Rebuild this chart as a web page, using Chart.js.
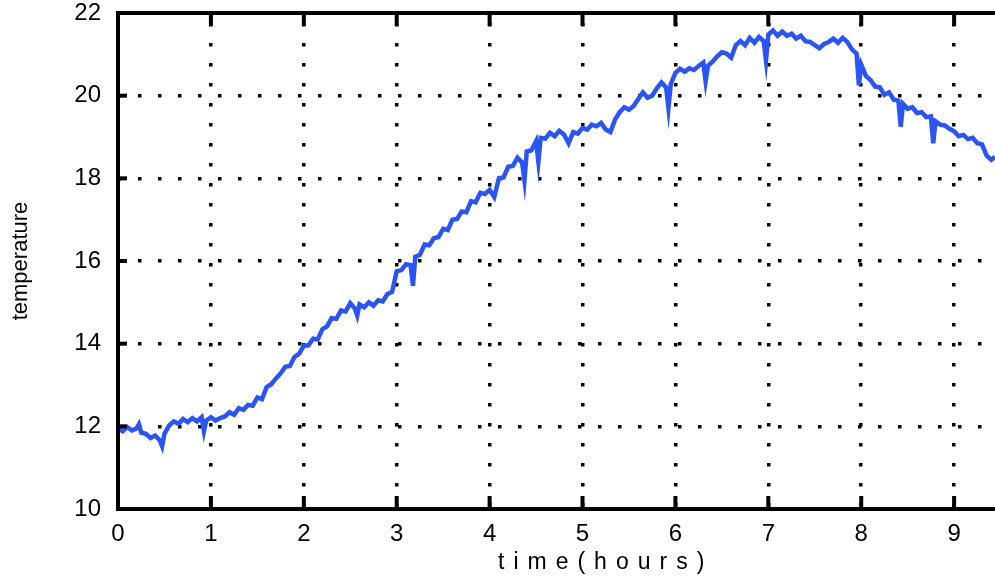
<!DOCTYPE html>
<html>
<head>
<meta charset="utf-8">
<title>temperature vs time</title>
<script src="https://cdn.jsdelivr.net/npm/chart.js@4.4.0/dist/chart.umd.min.js"></script>
<style>
  html, body { margin: 0; padding: 0; background: #fff; }
  canvas { display: block; }
</style>
</head>
<body>
<canvas id="myChart" width="995" height="577"></canvas>
<script>
// time in hours (extra points where the trace spikes)
const hours = [
  0.00, 0.05, 0.10, 0.15, 0.20, 0.225, 0.25, 0.30, 0.35, 0.40, 0.45, 0.475, 0.50,
  0.55, 0.60, 0.65, 0.70, 0.75, 0.80, 0.85, 0.90, 0.925, 0.95, 1.00,
  1.05, 1.10, 1.15, 1.20, 1.25, 1.30, 1.35, 1.40, 1.45, 1.50,
  1.55, 1.60, 1.65, 1.70, 1.75, 1.80, 1.85, 1.90, 1.95, 2.00,
  2.05, 2.10, 2.15, 2.20, 2.25, 2.30, 2.35, 2.40, 2.45, 2.50,
  2.55, 2.575, 2.60, 2.65, 2.70, 2.75, 2.80, 2.85, 2.90, 2.95, 3.00,
  3.05, 3.10, 3.15, 3.175, 3.20, 3.25, 3.30, 3.35, 3.40, 3.45, 3.50,
  3.55, 3.60, 3.65, 3.70, 3.75, 3.80, 3.85, 3.90, 3.95, 4.00,
  4.05, 4.10, 4.15, 4.20, 4.25, 4.30, 4.35, 4.375, 4.40, 4.45, 4.50,
  4.525, 4.55, 4.60, 4.65, 4.70, 4.75, 4.80, 4.85, 4.90, 4.95, 5.00,
  5.05, 5.10, 5.15, 5.20, 5.25, 5.30, 5.35, 5.40, 5.45, 5.50,
  5.55, 5.60, 5.65, 5.70, 5.75, 5.80, 5.85, 5.90, 5.925, 5.95, 6.00,
  6.05, 6.10, 6.15, 6.20, 6.25, 6.30, 6.325, 6.35, 6.40, 6.45, 6.50,
  6.55, 6.60, 6.65, 6.70, 6.75, 6.80, 6.85, 6.90, 6.95, 6.975, 7.00,
  7.05, 7.10, 7.15, 7.20, 7.25, 7.30, 7.35, 7.40, 7.45, 7.50,
  7.55, 7.60, 7.65, 7.70, 7.75, 7.80, 7.85, 7.90, 7.95, 7.975, 8.00,
  8.05, 8.10, 8.15, 8.20, 8.25, 8.30, 8.35, 8.40, 8.425, 8.45, 8.50,
  8.55, 8.60, 8.65, 8.70, 8.75, 8.775, 8.80, 8.85, 8.90, 8.95, 9.00,
  9.05, 9.10, 9.15, 9.20, 9.25, 9.30, 9.35, 9.40, 9.44
];

// temperature readings, same order as hours
const temperature = [
  11.95, 11.88, 11.98, 11.90, 11.95, 12.05, 11.85, 11.82, 11.72, 11.78, 11.66, 11.52, 11.82,
  12.02, 12.12, 12.06, 12.18, 12.10, 12.20, 12.12, 12.22, 11.88, 12.14, 12.22,
  12.14, 12.20, 12.24, 12.34, 12.28, 12.44, 12.40, 12.52, 12.50, 12.70,
  12.66, 12.95, 13.02, 13.16, 13.28, 13.44, 13.46, 13.68, 13.76, 13.95,
  13.96, 14.12, 14.10, 14.35, 14.42, 14.62, 14.60, 14.80, 14.78, 14.98,
  14.85, 14.68, 14.95, 14.88, 15.00, 14.92, 15.05, 15.02, 15.20, 15.25, 15.75,
  15.78, 15.92, 15.90, 15.40, 16.10, 16.15, 16.40, 16.38, 16.55, 16.58, 16.78,
  16.75, 17.00, 17.02, 17.20, 17.18, 17.45, 17.42, 17.65, 17.62, 17.72,
  17.55, 18.00, 18.02, 18.28, 18.30, 18.50, 18.38, 17.95, 18.65, 18.68, 18.90,
  18.40, 18.98, 18.96, 19.10, 19.02, 19.15, 19.06, 18.85, 19.12, 19.08, 19.22,
  19.18, 19.30, 19.26, 19.34, 19.18, 19.12, 19.42, 19.60, 19.72, 19.66,
  19.75, 19.92, 20.08, 19.95, 20.00, 20.18, 20.32, 20.20, 19.70, 20.28, 20.55,
  20.65, 20.58, 20.66, 20.62, 20.72, 20.80, 20.35, 20.72, 20.82, 20.95, 21.05,
  21.02, 20.92, 21.22, 21.32, 21.22, 21.40, 21.28, 21.42, 21.32, 20.85, 21.48,
  21.58, 21.45, 21.55, 21.45, 21.50, 21.38, 21.45, 21.32, 21.30, 21.22,
  21.15, 21.25, 21.30, 21.38, 21.28, 21.40, 21.30, 21.12, 21.02, 20.25, 20.75,
  20.48, 20.38, 20.22, 20.20, 20.02, 20.08, 19.90, 19.88, 19.25, 19.80, 19.68,
  19.72, 19.58, 19.60, 19.48, 19.50, 18.85, 19.38, 19.30, 19.28, 19.20, 19.14,
  19.02, 19.05, 18.95, 18.98, 18.85, 18.82, 18.55, 18.45, 18.52
];

const xTicks = [0, 1, 2, 3, 4, 5, 6, 7, 8, 9];
const yTicks = [10, 12, 14, 16, 18, 20, 22];

const FONT = "'Liberation Sans', Arial, Helvetica, sans-serif";

// frame, inward tick marks and the spaced-out x title
const framePlugin = {
    id: 'frame',
    afterDraw(chart) {
        const { ctx, chartArea: a, scales: { x, y } } = chart;
        ctx.save();
        ctx.strokeStyle = '#000';
        ctx.lineCap = 'butt';

        ctx.lineWidth = 4;
        xTicks.forEach(v => {
            const px = x.getPixelForValue(v);
            ctx.beginPath();
            ctx.moveTo(px, a.bottom); ctx.lineTo(px, a.bottom - 13);
            ctx.moveTo(px, a.top); ctx.lineTo(px, a.top + 13);
            ctx.stroke();
        });
        yTicks.forEach(v => {
            const py = y.getPixelForValue(v);
            ctx.beginPath();
            ctx.moveTo(a.left, py); ctx.lineTo(a.left + 9, py);
            ctx.stroke();
        });

        ctx.beginPath();
        ctx.moveTo(a.right, a.top);
        ctx.lineTo(a.left, a.top);
        ctx.lineTo(a.left, a.bottom);
        ctx.lineTo(a.right, a.bottom);
        ctx.stroke();

        ctx.fillStyle = '#000';
        ctx.font = '23px ' + FONT;
        ctx.letterSpacing = '9px';
        ctx.textAlign = 'left';
        ctx.textBaseline = 'alphabetic';
        ctx.fillText('time(hours)', 498, 569);
        ctx.restore();
    }
};

const ctx = document.getElementById('myChart').getContext('2d');

const myChart = new Chart(ctx, {
    type: 'line',
    data: {
        datasets: [{
            data: hours.map((h, i) => ({ x: h, y: temperature[i] })),
            borderColor: '#2a55f4',
            borderWidth: 4.5,
            pointRadius: 0,
            tension: 0,
            fill: false
        }]
    },
    options: {
        responsive: false,
        animation: false,
        devicePixelRatio: 1,
        layout: { padding: { top: 13, right: 0, left: 0, bottom: 0 } },
        plugins: {
            legend: { display: false },
            tooltip: { enabled: false }
        },
        scales: {
            x: {
                type: 'linear',
                min: 0,
                max: 9.44,
                afterBuildTicks: scale => { scale.ticks = xTicks.map(v => ({ value: v })); },
                afterFit: scale => {
                    scale.height = 68;
                    scale.paddingLeft = 0;
                    scale.paddingRight = 0;
                },
                ticks: {
                    color: '#000',
                    font: { family: FONT, size: 24 },
                    padding: 11,
                    maxRotation: 0,
                    autoSkip: false
                },
                grid: {
                    color: '#000',
                    lineWidth: 3.5,
                    drawTicks: false
                },
                border: { display: false, dash: [3.5, 16.5], dashOffset: 10 }
            },
            y: {
                min: 10,
                max: 22,
                afterBuildTicks: scale => { scale.ticks = yTicks.map(v => ({ value: v })); },
                afterFit: scale => {
                    scale.width = 118;
                    scale.paddingTop = 0;
                    scale.paddingBottom = 0;
                },
                ticks: {
                    color: '#000',
                    font: { family: FONT, size: 24 },
                    padding: 17
                },
                grid: {
                    color: '#000',
                    lineWidth: 3.5,
                    drawTicks: false
                },
                border: { display: false, dash: [3.5, 16.5], dashOffset: 0 },
                title: {
                    display: true,
                    text: 'temperature',
                    color: '#000',
                    font: { family: FONT, size: 22 },
                    padding: { top: 8, bottom: 0 }
                }
            }
        }
    },
    plugins: [framePlugin]
});
</script>
</body>
</html>
